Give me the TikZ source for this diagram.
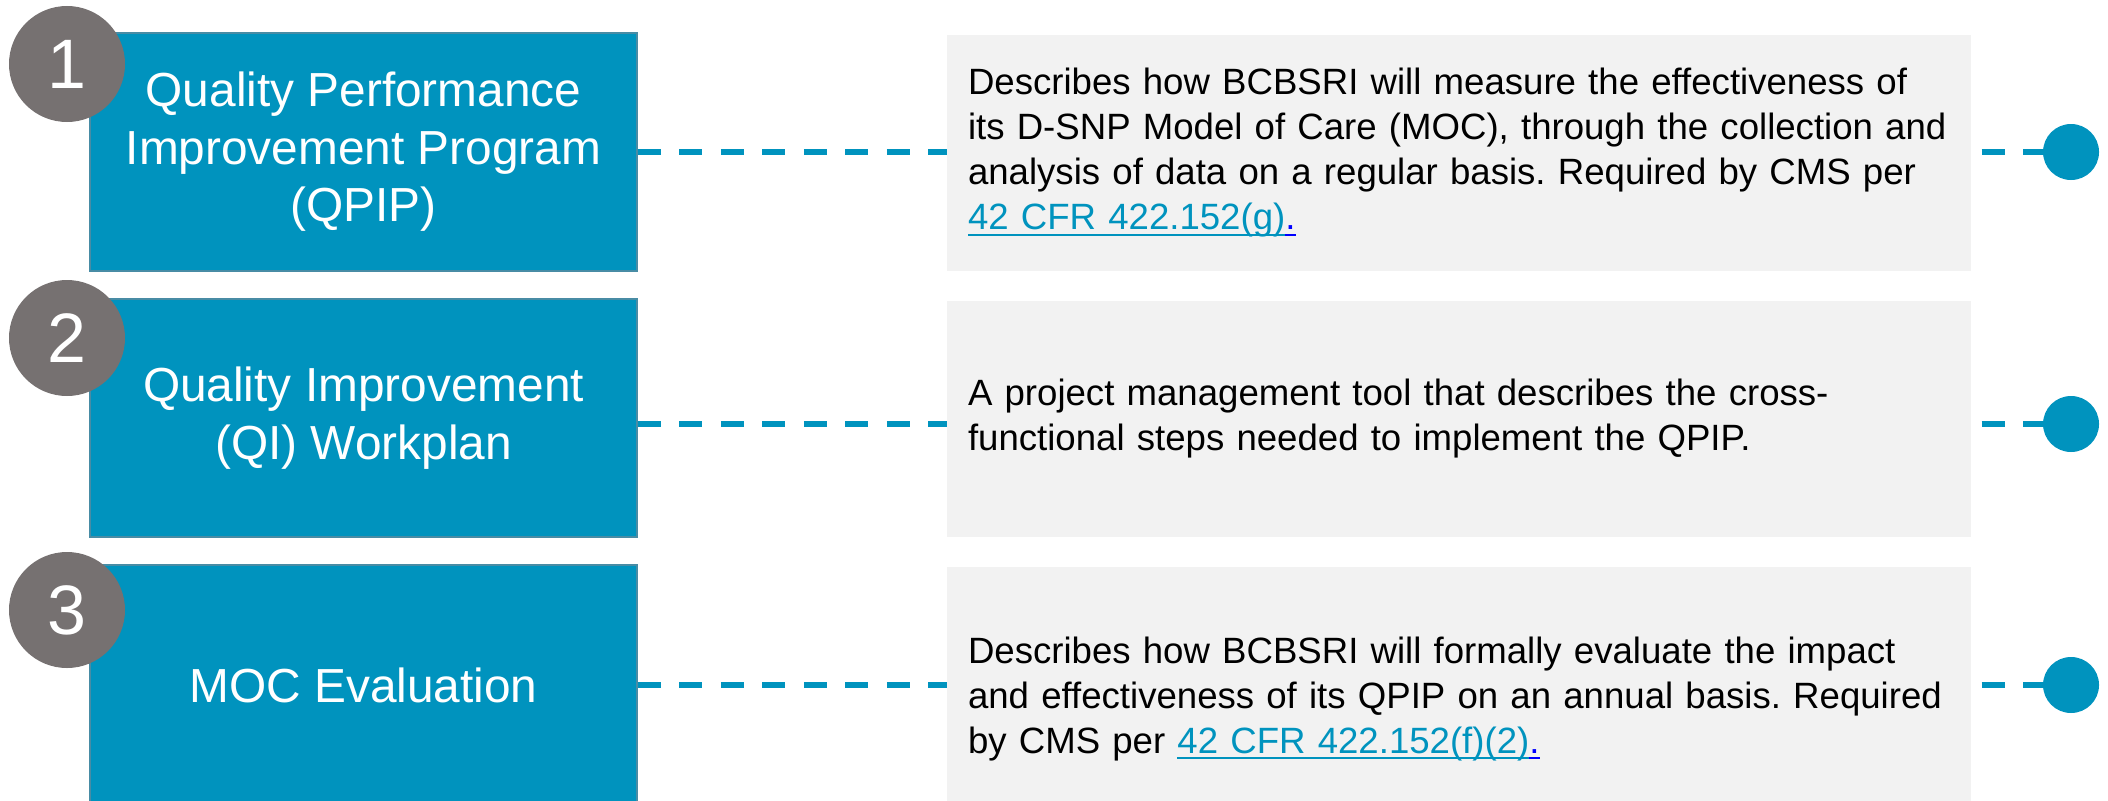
\documentclass[tikz,border=0pt]{standalone}
\usepackage{fontspec}
\setmainfont{Liberation Sans}
\definecolor{qblue}{RGB}{0,147,190}
\definecolor{qedge}{RGB}{72,140,165}
\definecolor{qgrey}{RGB}{242,242,242}
\definecolor{qnum}{RGB}{118,113,113}
\definecolor{qlinkblue}{RGB}{0,0,255}
\newcommand\qul[2]{\leavevmode\setbox0\hbox{#2}\rlap{\color{#1}\rule[-6pt]{\wd0}{2pt}}\box0}
\begin{document}
\frenchspacing
\begin{tikzpicture}[x=1pt,y=-1pt,
  prog/.style={rectangle,fill=qblue,draw=qedge,line width=1.5pt,minimum width=547pt,minimum height=238pt,inner sep=0pt,text=white,align=center,font=\fontsize{47.8}{57.5}\selectfont},
  descr/.style={rectangle,fill=qgrey,minimum height=236pt,text width=982pt,inner xsep=21pt,inner ysep=0pt,align=left,font=\fontsize{36.6}{45}\selectfont\frenchspacing},
  num/.style={circle,fill=qnum,minimum size=116pt,inner sep=0pt,text=white,font=\fontsize{70}{70}\selectfont},
  enddot/.style={circle,fill=qblue,minimum size=56pt,inner sep=0pt},
  link/.style={qblue,line width=6pt,dash pattern=on 23pt off 18.5pt}]
\useasboundingbox (0,0) rectangle (2108,800);
%
\node[prog](qpip) at (363.5,152) {Quality Performance\\Improvement Program\\(QPIP)};
\node[num](n1) at (67,64) {1};
\node[descr](d1) at (1459,153) {Describes how BCBSRI will measure the effectiveness of\\its D-SNP Model of Care (MOC), through the collection and\\analysis of data on a regular basis. Required by CMS per\\\qul{qblue}{\color{qblue}42 CFR 422.152(g)}\qul{qlinkblue}{\color{qlinkblue}.}};
\node[enddot](e1) at (2071,152) {};
\draw[link](qpip.east |- e1) -- (d1.west |- e1);
\draw[link,dash phase=31pt](d1.east |- e1) -- (e1);
%
\node[prog](qi) at (363.5,418) {Quality Improvement\\(QI) Workplan};
\node[num](n2) at (67,338) {2};
\node[descr](d2) at (1459,419) {A project management tool that describes the cross-\\functional steps needed to implement the QPIP.};
\node[enddot](e2) at (2071,424) {};
\draw[link](qi.east |- e2) -- (d2.west |- e2);
\draw[link,dash phase=31pt](d2.east |- e2) -- (e2);
%
\node[prog,minimum height=240pt](moc) at (363.5,685) {MOC Evaluation};
\node[num](n3) at (67,610) {3};
\node[descr,minimum height=264pt](d3) at (1459,699) {Describes how BCBSRI will formally evaluate the impact\\and effectiveness of its QPIP on an annual basis. Required\\by CMS per \qul{qblue}{\color{qblue}42 CFR 422.152(f)(2)}\qul{qlinkblue}{\color{qlinkblue}.}};
\node[enddot](e3) at (2071,685) {};
\draw[link](moc.east |- e3) -- (d3.west |- e3);
\draw[link,dash phase=31pt](d3.east |- e3) -- (e3);
\end{tikzpicture}
\end{document}
